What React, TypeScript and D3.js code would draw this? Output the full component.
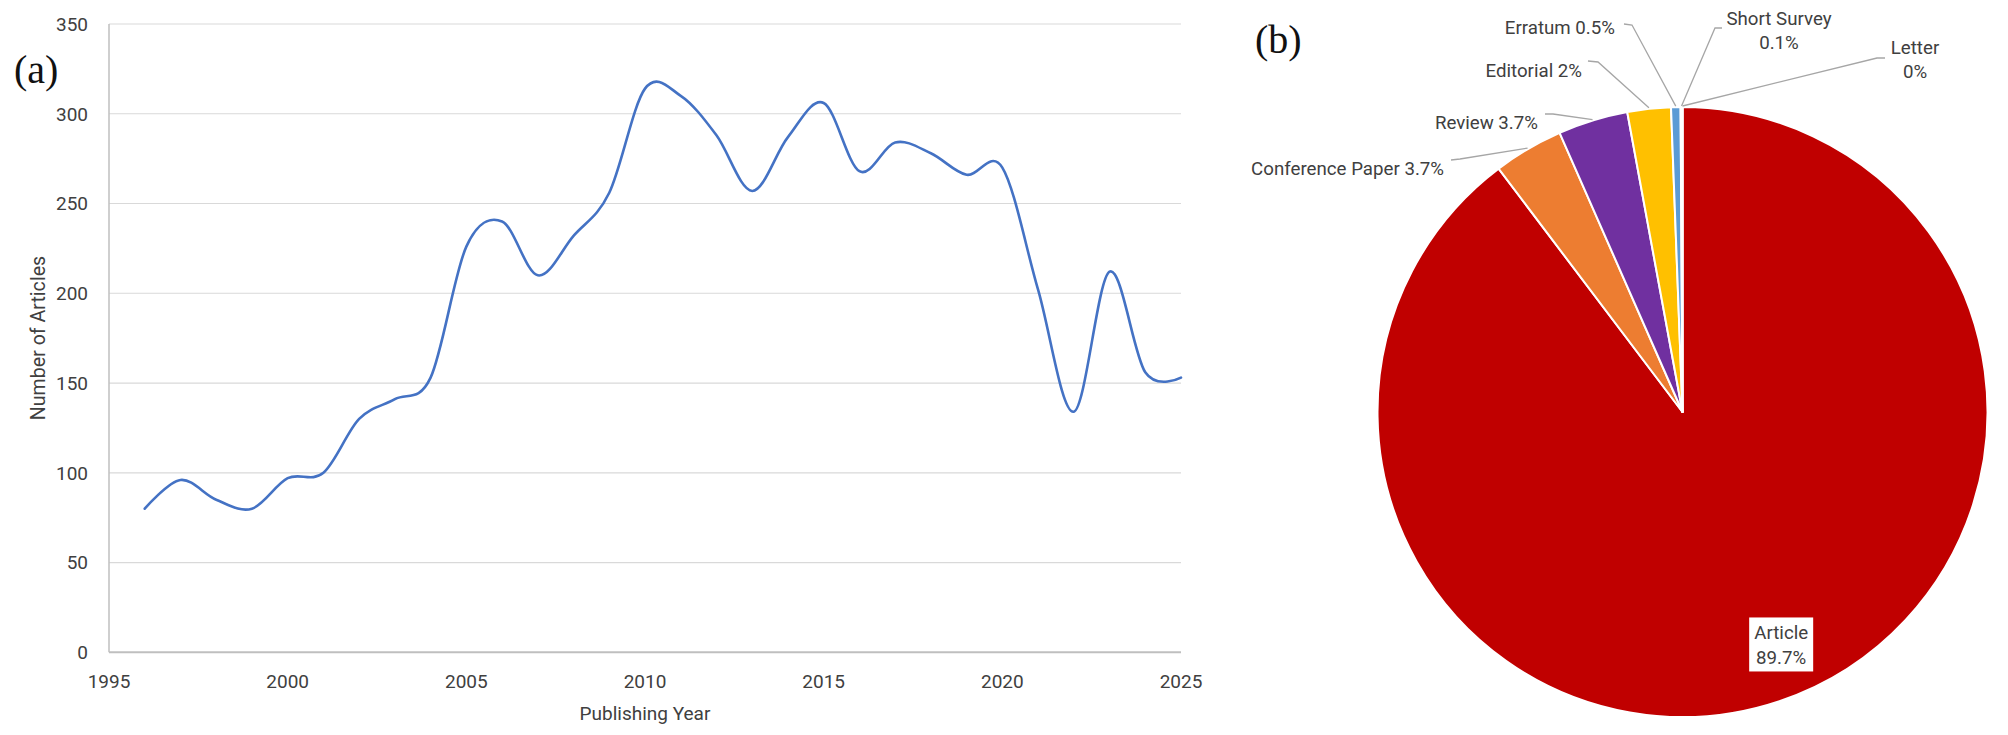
import React from 'react';
import * as d3 from 'd3';

// ---------- Data: panel (a) ----------
const years = [1996, 1997, 1998, 1999, 2000, 2001, 2002, 2003, 2004, 2005, 2006, 2007, 2008, 2009, 2010, 2011, 2012, 2013, 2014, 2015, 2016, 2017, 2018, 2019, 2020, 2021, 2022, 2023, 2024, 2025];
const articleCounts = [80, 96, 85, 80, 97, 100, 130, 141, 153, 226, 240, 210, 232, 256, 314, 310, 288, 257, 287, 306, 268, 284, 278, 266, 270, 202, 134, 212, 156, 153];
const yTicks = [0, 50, 100, 150, 200, 250, 300, 350];
const xTicks = [1995, 2000, 2005, 2010, 2015, 2020, 2025];

// ---------- Data: panel (b) ----------
const docTypes = ['Article', 'Conference Paper', 'Review', 'Editorial', 'Erratum', 'Short Survey', 'Letter'];
const docShares = [89.7, 3.7, 3.7, 2.3, 0.5, 0.1, 0];
const docPctLabels = ['89.7%', '3.7%', '3.7%', '2%', '0.5%', '0.1%', '0%'];
const docColors = ['#C00000', '#ED7D31', '#7030A0', '#FFC000', '#5B9BD5', '#70AD47', '#255E91'];

// ---------- Layout / style ----------
const W = 2008;
const H = 735;
const FONT = 'Roboto, "Open Sans", sans-serif';
const TXT = '#404040';

const plot = { left: 109, right: 1181, top: 24, bottom: 652.3 };
const pieC = { x: 1682.5, y: 412, r: 305 };

// label placement for the pie (positions only)
type LabelPos = {
  x: number; y: number; anchor: 'start' | 'middle' | 'end';
  twoLines: boolean; start: [number, number]; elbow: [number, number];
};
const outsideLabelPos: (LabelPos | null)[] = [
  null,
  { x: 1444, y: 168, anchor: 'end', twoLines: false, start: [1451, 160], elbow: [1460, 159] },
  { x: 1538, y: 122.5, anchor: 'end', twoLines: false, start: [1545, 114], elbow: [1553, 114] },
  { x: 1582, y: 70, anchor: 'end', twoLines: false, start: [1588, 61], elbow: [1598, 62] },
  { x: 1615, y: 27, anchor: 'end', twoLines: false, start: [1624, 24], elbow: [1632, 25] },
  { x: 1779, y: 18, anchor: 'middle', twoLines: true, start: [1722, 28], elbow: [1715, 28] },
  { x: 1915, y: 47, anchor: 'middle', twoLines: true, start: [1885, 58], elbow: [1877, 58] },
];
const articleLabelPolar = { angleDeg: 157, rf: 0.828 };

export default function App() {
  const x = d3.scaleLinear().domain([1995, 2025]).range([plot.left, plot.right]);
  const y = d3.scaleLinear().domain([0, 350]).range([plot.bottom, plot.top]);

  const pts: [number, number][] = years.map((yr, i) => [x(yr), y(articleCounts[i])]);
  const linePath = d3.line().curve(d3.curveCatmullRom.alpha(0))(pts) || '';

  const pie = d3.pie<number>().sort(null).value((d) => d)(docShares);
  const arc = d3.arc<d3.PieArcDatum<number>>().innerRadius(0).outerRadius(pieC.r);

  const edgePoint = (a: number, rr: number): [number, number] => [
    pieC.x + rr * Math.sin(a),
    pieC.y - rr * Math.cos(a),
  ];
  const leader = d3.line();

  const artA = (articleLabelPolar.angleDeg * Math.PI) / 180;
  const artPos = edgePoint(artA, pieC.r * articleLabelPolar.rf);

  return (
    <svg
      width={W}
      height={H}
      viewBox={`0 0 ${W} ${H}`}
      style={{ position: 'absolute', left: 0, top: 0, background: '#fff' }}
      fontFamily={FONT}
    >
      <rect x={0} y={0} width={W} height={H} fill="#fff" />

      {/* ---------- Panel (a) ---------- */}
      <text x={14} y={83} fontFamily='"Liberation Serif", "Times New Roman", serif' fontSize={40} fill="#111">(a)</text>

      {yTicks.filter((t) => t > 0).map((t) => (
        <line key={'g' + t} x1={plot.left} x2={plot.right} y1={y(t)} y2={y(t)} stroke="#d9d9d9" strokeWidth={1.2} />
      ))}
      <line x1={plot.left} x2={plot.left} y1={plot.top} y2={plot.bottom} stroke="#bfbfbf" strokeWidth={1.5} />
      <line x1={plot.left} x2={plot.right} y1={plot.bottom} y2={plot.bottom} stroke="#bfbfbf" strokeWidth={2} />

      {yTicks.map((t) => (
        <text key={'yt' + t} x={88} y={y(t)} dy="0.36em" textAnchor="end" fontSize={19} fill={TXT}>{t}</text>
      ))}
      {xTicks.map((t) => (
        <text key={'xt' + t} x={x(t)} y={688} textAnchor="middle" fontSize={19} fill={TXT}>{t}</text>
      ))}

      <text x={645} y={720} textAnchor="middle" fontSize={19} fill={TXT}>Publishing Year</text>
      <text transform="translate(45,338) rotate(-90)" textAnchor="middle" fontSize={19.6} fill={TXT}>Number of Articles</text>

      <path d={linePath} fill="none" stroke="#4472C4" strokeWidth={2.6} strokeLinejoin="round" strokeLinecap="round" />

      {/* ---------- Panel (b) ---------- */}
      <text x={1255} y={52.5} fontFamily='"Liberation Serif", "Times New Roman", serif' fontSize={40} fill="#111">(b)</text>

      <g transform={`translate(${pieC.x},${pieC.y})`}>
        {pie.map((p, i) => (
          <path key={'s' + i} d={arc(p) || ''} fill={docColors[i]} stroke="#fff" strokeWidth={2} strokeLinejoin="round" />
        ))}
      </g>

      {pie.map((p, i) => {
        const lp = outsideLabelPos[i];
        if (!lp) return null;
        const mid = (p.startAngle + p.endAngle) / 2;
        const end = edgePoint(mid, pieC.r + 1);
        return (
          <path key={'l' + i} d={leader([lp.start, lp.elbow, end]) || ''} fill="none" stroke="#a6a6a6" strokeWidth={1.3} />
        );
      })}

      {pie.map((p, i) => {
        const lp = outsideLabelPos[i];
        if (!lp) return null;
        if (lp.twoLines) {
          return (
            <g key={'t' + i}>
              <text x={lp.x} y={lp.y} dy="0.36em" textAnchor={lp.anchor} fontSize={18.7} fill={TXT}>{docTypes[i]}</text>
              <text x={lp.x} y={lp.y + 24.5} dy="0.36em" textAnchor={lp.anchor} fontSize={18.7} fill={TXT}>{docPctLabels[i]}</text>
            </g>
          );
        }
        return (
          <text key={'t' + i} x={lp.x} y={lp.y} dy="0.36em" textAnchor={lp.anchor} fontSize={18.7} fill={TXT}>
            {docTypes[i] + ' ' + docPctLabels[i]}
          </text>
        );
      })}

      <g transform={`translate(${artPos[0]},${artPos[1]})`}>
        <rect x={-32} y={-27} width={64} height={54} fill="#fff" />
        <text x={0} y={-12.5} dy="0.36em" textAnchor="middle" fontSize={18.7} fill={TXT}>{docTypes[0]}</text>
        <text x={0} y={12.5} dy="0.36em" textAnchor="middle" fontSize={18.7} fill={TXT}>{docPctLabels[0]}</text>
      </g>
    </svg>
  );
}
